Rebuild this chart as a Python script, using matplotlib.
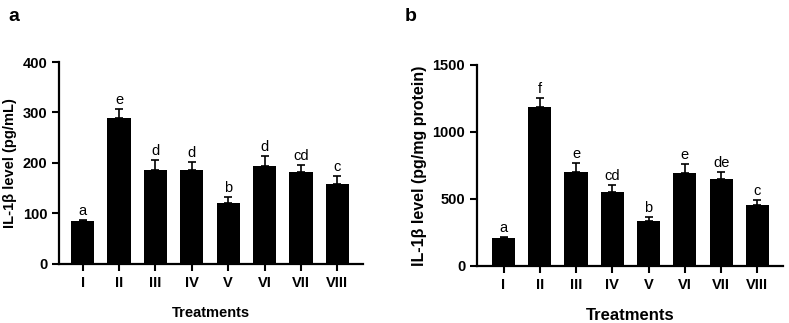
import numpy as np
import matplotlib.pyplot as plt

plt.rcParams['font.family'] = ['Liberation Sans', 'DejaVu Sans']

# 数据
groups = ['I', 'II', 'III', 'IV', 'V', 'VI', 'VII', 'VIII']

serum_mean = [85, 290, 187, 186, 121, 194, 182, 159]
serum_err = [2, 17, 18, 16, 12, 19, 14, 15]
serum_sig = ['a', 'e', 'd', 'd', 'b', 'd', 'cd', 'c']

tissue_mean = [209, 1184, 698, 551, 335, 695, 651, 452]
tissue_err = [8, 67, 70, 55, 30, 67, 52, 42]
tissue_sig = ['a', 'f', 'e', 'cd', 'b', 'e', 'de', 'c']

fig = plt.figure(figsize=(7.89, 3.23), dpi=100)
ax1 = fig.add_axes([0.0748, 0.183, 0.385, 0.625])
ax2 = fig.add_axes([0.6046, 0.1765, 0.388, 0.623])


def draw(ax, mean, err, sig, ymax, step, ylabel, xlim, lab_size, xl_size):
    x = np.arange(len(groups))
    ax.bar(x, mean, width=0.64, color='black')
    ax.errorbar(x, mean, yerr=[np.zeros(len(err)), err], fmt='none',
                ecolor='black', elinewidth=1.2, capsize=2.8, capthick=1.2)
    # 显著性字母
    for i in range(len(x)):
        ax.annotate(sig[i], (x[i], mean[i] + err[i]), xytext=(0, 1.5),
                    textcoords='offset points', ha='center', va='bottom',
                    fontsize=10.5)
    ax.set_xlim(xlim)
    ax.set_ylim(0, ymax)
    ax.set_yticks(np.arange(0, ymax + 1, step))
    ax.set_xticks(x)
    ax.set_xticklabels(groups, fontweight='bold')
    for t in ax.get_yticklabels():
        t.set_fontweight('bold')
    ax.tick_params(labelsize=10.5, width=1.5, length=5)
    for s in ['top', 'right']:
        ax.spines[s].set_visible(False)
    for s in ['left', 'bottom']:
        ax.spines[s].set_linewidth(1.6)
    ax.set_ylabel(ylabel, fontweight='bold', fontsize=lab_size)
    ax.set_xlabel('Treatments', fontweight='bold', fontsize=xl_size, labelpad=12)


draw(ax1, serum_mean, serum_err, serum_sig, 400, 100, 'IL-1β level (pg/mL)',
     (-0.65, 7.7), 10.5, 10.5)
draw(ax2, tissue_mean, tissue_err, tissue_sig, 1500, 500,
     'IL-1β level (pg/mg protein)', (-0.73, 7.71), 11.5, 12)

fig.text(0.01, 0.95, 'a', fontsize=14, fontweight='bold', va='center')
fig.text(0.513, 0.95, 'b', fontsize=14, fontweight='bold', va='center')

fig.savefig('out.png', dpi=100)
